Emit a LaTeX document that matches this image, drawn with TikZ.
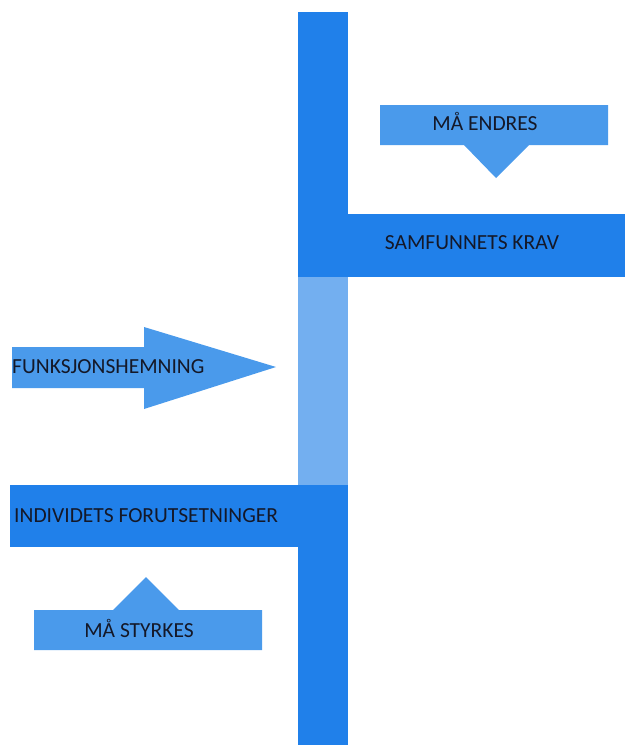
\documentclass[tikz,border=0pt]{standalone}
\usepackage{fontspec}
\setmainfont{Carlito}
\definecolor{barblue}{RGB}{32,128,234}
\definecolor{calloutblue}{RGB}{74,154,235}
\definecolor{gapblue}{RGB}{115,175,240}
\definecolor{labelink}{RGB}{20,24,40}
\tikzset{
  lbl/.style={inner sep=0pt, text=labelink, font=\fontsize{21.5}{24}\selectfont}
}
\begin{document}
\begin{tikzpicture}[x=1pt, y=-1pt]
\useasboundingbox (0,0) rectangle (625,745);
% vertical axis: upper and lower parts, lighter gap in the middle
\fill[barblue] (298,12) rectangle (348,277);
\fill[gapblue] (298,277) rectangle (348,485);
\fill[barblue] (298,547) rectangle (348,745);
% society bar (upper right)
\fill[barblue] (298,214) rectangle (625,277);
% individual bar (lower left)
\fill[barblue] (10,485) rectangle (348,547);
% callout pointing down
\fill[calloutblue] (380,105) -- (608,105) -- (608,145) -- (529,145) -- (496,178)
  -- (464,145) -- (380,145) -- cycle;
% callout pointing up
\fill[calloutblue] (34,610) -- (113,610) -- (146,577) -- (179,610) -- (262,610)
  -- (262,650) -- (34,650) -- cycle;
% block arrow
\fill[calloutblue] (12,347) -- (144,347) -- (144,327) -- (276,367) -- (144,409)
  -- (144,388) -- (12,388) -- cycle;
% labels
\node[lbl] (endres) at (485,121) {MÅ ENDRES};
\node[lbl] (krav) at (472,243) {SAMFUNNETS KRAV};
\node[lbl, anchor=west] (funk) at (12,367) {FUNKSJONSHEMNING};
\node[lbl, anchor=west] (indiv) at (14,516) {INDIVIDETS FORUTSETNINGER};
\node[lbl] (styrkes) at (139,628) {MÅ STYRKES};
\end{tikzpicture}
\end{document}
